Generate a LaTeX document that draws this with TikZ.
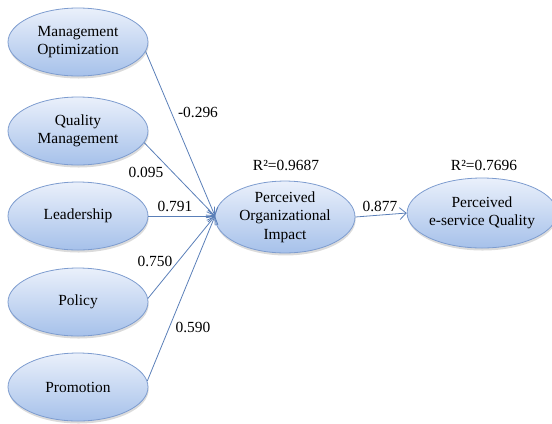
\documentclass[tikz,border=0pt]{standalone}
\usepackage{fontspec}
\setmainfont{Liberation Serif}
\usetikzlibrary{arrows.meta,shapes.geometric,shadows}

\definecolor{ovtop}{HTML}{EAF0FB}
\definecolor{ovbot}{HTML}{A6C1EA}
\definecolor{ovline}{HTML}{7D9CCF}
\definecolor{pathblue}{HTML}{5A7FB8}

\tikzset{
  construct/.style={ellipse, draw=ovline, line width=0.8pt,
    top color=ovtop, bottom color=ovbot,
    minimum width=140bp, minimum height=68bp, inner sep=0pt,
    align=center, font=\fontsize{15.5}{18.5}\selectfont,
    drop shadow={shadow xshift=0.6bp, shadow yshift=-2.5bp, opacity=0.2, fill=black!70}},
  path/.style={draw=pathblue, line width=0.8pt,
    -{Straight Barb[length=6.5bp,width=12bp]}},
  coef/.style={font=\fontsize{15.5}{18}\selectfont, inner sep=1pt}
}

\begin{document}
\begin{tikzpicture}[x=1bp,y=-1bp]
  \useasboundingbox (0,0) rectangle (552,423);

  % exogenous constructs
  \node[construct] (mo) at (78,42)  {Management\\Optimization};
  \node[construct] (qm) at (78,131) {Quality\\Management};
  \node[construct] (ld) at (78,216) {Leadership};
  \node[construct] (po) at (78,302) {Policy};
  \node[construct] (pr) at (78,387) {Promotion};

  % endogenous constructs
  \node[construct, minimum height=64bp] (poi) at (285,217) {Perceived\\Organizational\\Impact};
  \node[construct, minimum width=134bp, minimum height=70bp] (peq) at (482,213) {Perceived\\e-service Quality};

  % explained variance
  \node[coef] (r1) at (286,165) {R²=0.9687};
  \node[coef] (r2) at (484,165) {R²=0.7696};

  % structural paths
  \coordinate (hub) at (215,216);
  \draw[path] (mo.-8) -- (hub);
  \draw[path] (qm.-10) -- (hub);
  \draw[path] (ld.east) -- (hub);
  \draw[path] (po.3) -- (hub);
  \draw[path] (pr.5) -- (hub);
  \draw[path] (poi.east) -- (peq.west);

  % path coefficients
  \node[coef] (c1) at (198,112) {-0.296};
  \node[coef] (c2) at (146,172) {0.095};
  \node[coef] (c3) at (175,206) {0.791};
  \node[coef] (c4) at (155,261) {0.750};
  \node[coef] (c5) at (193,327) {0.590};
  \node[coef] (c6) at (380,206) {0.877};
\end{tikzpicture}
\end{document}
